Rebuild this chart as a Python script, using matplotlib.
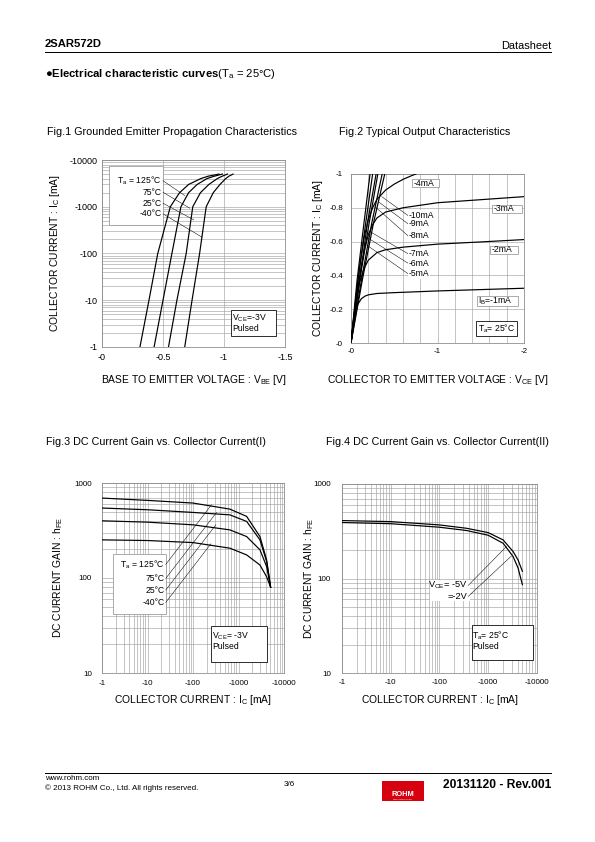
import numpy as np
import matplotlib.pyplot as plt
from matplotlib.patches import Rectangle
from matplotlib.lines import Line2D
from matplotlib.ticker import LogLocator, NullFormatter, FixedLocator

plt.rcParams['font.family'] = ['Liberation Sans', 'DejaVu Sans']
plt.rcParams['mathtext.fontset'] = 'custom'
plt.rcParams['mathtext.rm'] = 'Liberation Sans'
plt.rcParams['mathtext.it'] = 'Liberation Sans:italic'
plt.rcParams['mathtext.bf'] = 'Liberation Sans:bold'

W, H = 595, 842

# all values are magnitudes (PNP part, axes are labelled negative)
# Fig.1 grounded emitter propagation
ic_f1 = [1, 10, 100, 1000, 2000, 3000, 4000, 4500, 5000]
vbe_125 = [0.311, 0.385, 0.457, 0.560, 0.636, 0.710, 0.810, 0.870, 0.959]
vbe_75 = [0.427, 0.500, 0.573, 0.647, 0.710, 0.780, 0.860, 0.920, 0.987]
vbe_25 = [0.545, 0.614, 0.690, 0.744, 0.807, 0.876, 0.945, 0.985, 1.028]
vbe_m40 = [0.678, 0.738, 0.800, 0.854, 0.912, 0.967, 1.014, 1.040, 1.074]
temp_labels = ['T$_\\mathregular{a}$ = 125°C', '75°C', '25°C', '-40°C']
f1_lbl_ic = [3600, 2040, 1188, 705]
f1_end = [(0.678, 1740), (0.72, 930), (0.752, 525), (0.82, 223)]

# Fig.2 typical output characteristics (VCE [V], IC [A])
ib1_v = [0, 0.02, 0.05, 0.08, 0.12, 0.16, 0.2, 0.3, 0.5, 1.0, 1.5, 2.0]
ib1_i = [0, 0.09, 0.18, 0.23, 0.262, 0.277, 0.285, 0.293, 0.298, 0.308, 0.316, 0.324]
ib2_v = [0, 0.03, 0.06, 0.1, 0.15, 0.2, 0.3, 0.4, 0.6, 1.0, 1.5, 2.0]
ib2_i = [0, 0.14, 0.26, 0.36, 0.44, 0.49, 0.535, 0.552, 0.567, 0.585, 0.598, 0.612]
ib3_v = [0, 0.04, 0.08, 0.12, 0.16, 0.2, 0.25, 0.3, 0.4, 0.6, 1.0, 1.5, 2.0]
ib3_i = [0, 0.17, 0.33, 0.46, 0.56, 0.64, 0.70, 0.74, 0.775, 0.80, 0.83, 0.848, 0.866]
ib4_v = [0, 0.05, 0.1, 0.15, 0.2, 0.25, 0.3, 0.4, 0.5, 0.6, 0.7, 0.75]
ib4_i = [0, 0.24, 0.45, 0.62, 0.73, 0.80, 0.85, 0.905, 0.94, 0.968, 0.99, 1.0]
ib5_v = [0, 0.13, 0.26, 0.39]
ib6_v = [0, 0.12, 0.24, 0.36]
ib7_v = [0, 0.10, 0.21, 0.31]
ib8_v = [0, 0.10, 0.19, 0.29]
ib9_v = [0, 0.08, 0.17, 0.25]
ib10_v = [0, 0.07, 0.15, 0.22]
fan_i = [0, 0.37, 0.71, 1.0]
fan_labels = ['-10mA', '-9mA', '-8mA', '-7mA', '-6mA', '-5mA']
fan_lbl_i = [0.754, 0.705, 0.634, 0.528, 0.472, 0.41]
fan_end = [(0.355, 0.866), (0.316, 0.836), (0.277, 0.807), (0.22, 0.659), (0.20, 0.62), (0.18, 0.58)]

# Fig.3 hFE vs IC, VCE=-3V
ic_f3 = [1, 10, 100, 646, 1510, 2960, 4150, 5080]
hfe_125 = [694, 656, 615, 531, 445, 273, 155, 80]
hfe_75 = [545, 523, 490, 462, 394, 252, 149, 80]
hfe_25 = [400, 387, 363, 321, 273, 198, 132, 80]
hfe_m40 = [252, 248, 236, 206, 175, 137, 103, 80]
f3_lbl_h = [139, 99, 74.7, 55.3]
f3_end = [(255, 590), (329, 490), (318, 363), (247, 229)]

# Fig.4 hFE vs IC, Ta=25C
ic_f4 = [1, 10, 99, 359, 996, 2018, 3230, 4090, 5020]
hfe_5v = [410, 400, 369, 340, 306, 256, 193, 157, 119]
hfe_2v = [391, 380, 349, 322, 287, 236, 171, 129, 86]
f4_end = [(2360, 218), (2985, 173)]

fig = plt.figure(figsize=(W / 72, H / 72), dpi=72)

LAB = 10.3
ANN = 8.6


def fx(x):
    return x / W


def fy(y):
    return 1 - y / H


def add_ax(x0, y0, x1, y1, xpad, ypad, tick):
    ax = fig.add_axes([fx(x0), fy(y1), (x1 - x0) / W, (y1 - y0) / H])
    for s in ax.spines.values():
        s.set_color('#888888')
        s.set_linewidth(0.8)
    ax.tick_params(which='both', length=0, labelsize=tick)
    ax.tick_params(axis='x', pad=xpad)
    ax.tick_params(axis='y', pad=ypad)
    return ax


def label_axes(ax, xl, yl, xlab_y, ylab_x):
    ax.set_xlabel(xl, fontsize=LAB)
    ax.set_ylabel(yl, fontsize=LAB)
    ax.xaxis.set_label_coords(0.5, xlab_y)
    ax.yaxis.set_label_coords(ylab_x, 0.5)
    ax.xaxis.label.set_va('center')
    ax.yaxis.label.set_va('center')


def box(ax, x0, x1, y0, y1, ec):
    ax.add_patch(Rectangle((x0, y0), x1 - x0, y1 - y0, fc='white', ec=ec, lw=0.8, zorder=3))


grid_kw = dict(color='#a0a0a0', lw=0.6)
line_kw = dict(color='black', lw=1.2, zorder=4)
lead_kw = dict(color='black', lw=0.5, zorder=5)

# ---------- Fig.1 ----------
ax1 = add_ax(102, 160, 285, 347, 6, 4, 9)
ax1.set_yscale('log')
ax1.set_xlim(0, 1.5)
ax1.set_ylim(1, 10000)
ax1.xaxis.set_major_locator(FixedLocator([0, 0.5, 1, 1.5]))
ax1.set_xticklabels(['-0', '-0.5', '-1', '-1.5'])
ax1.yaxis.set_major_locator(FixedLocator([1, 10, 100, 1000, 10000]))
ax1.set_yticklabels(['-1', '-10', '-100', '-1000', '-10000'])
ax1.yaxis.set_minor_locator(LogLocator(subs=range(2, 10)))
ax1.yaxis.set_minor_formatter(NullFormatter())
ax1.grid(True, which='both', **grid_kw)
ax1.set_axisbelow(True)
for v in [vbe_125, vbe_75, vbe_25, vbe_m40]:
    ax1.plot(v, ic_f1, **line_kw)
box(ax1, 0.055, 0.504, 409, 7580, '#999999')
for lab, yl, (xe, ye) in zip(temp_labels, f1_lbl_ic, f1_end):
    ax1.text(0.49, yl, lab, fontsize=ANN, ha='right', va='center', zorder=6)
    ax1.plot([0.50, xe], [yl, ye], **lead_kw)
box(ax1, 1.055, 1.43, 1.72, 6.2, 'black')
ax1.text(1.065, 5.6, 'V$_\\mathregular{CE}$=-3V\nPulsed', fontsize=ANN, va='top', zorder=6, linespacing=1.0)
label_axes(ax1, 'BASE TO EMITTER VOLTAGE : V$_\\mathregular{BE}$ [V]',
           'COLLECTOR CURRENT : I$_\\mathregular{C}$ [mA]', -0.176, -0.257)

# ---------- Fig.2 ----------
ax2 = add_ax(351, 174, 524, 343, 5, 8, 8)
ax2.set_xlim(0, 2)
ax2.set_ylim(0, 1)
ax2.xaxis.set_major_locator(FixedLocator([0, 1, 2]))
ax2.set_xticklabels(['-0', '-1', '-2'])
ax2.xaxis.set_minor_locator(FixedLocator(np.arange(0.2, 2, 0.2)))
ax2.yaxis.set_major_locator(FixedLocator([0, 0.2, 0.4, 0.6, 0.8, 1.0]))
ax2.set_yticklabels(['-0', '-0.2', '-0.4', '-0.6', '-0.8', '-1'])
ax2.grid(True, which='both', **grid_kw)
ax2.set_axisbelow(True)
ax2.plot(ib1_v, ib1_i, **line_kw)
ax2.plot(ib2_v, ib2_i, **line_kw)
ax2.plot(ib3_v, ib3_i, **line_kw)
ax2.plot(ib4_v, ib4_i, **line_kw)
for v in [ib5_v, ib6_v, ib7_v, ib8_v, ib9_v, ib10_v]:
    ax2.plot(v, fan_i, **line_kw)
for lab, yl, (xe, ye) in zip(fan_labels, fan_lbl_i, fan_end):
    ax2.text(0.67, yl, lab, fontsize=ANN, va='center', zorder=6,
             bbox=dict(boxstyle='square,pad=0.1', fc='white', ec='none'))
    ax2.plot([0.66, xe], [yl, ye], **lead_kw)
box(ax2, 0.704, 1.012, 0.921, 0.969, '#999999')
ax2.text(0.72, 0.945, '-4mA', fontsize=ANN, va='center', zorder=6)
box(ax2, 1.627, 1.973, 0.768, 0.817, '#999999')
ax2.text(1.65, 0.793, '-3mA', fontsize=ANN, va='center', zorder=6)
box(ax2, 1.608, 1.935, 0.528, 0.575, '#999999')
ax2.text(1.63, 0.551, '-2mA', fontsize=ANN, va='center', zorder=6)
box(ax2, 1.454, 1.935, 0.22, 0.276, '#999999')
ax2.text(1.47, 0.248, 'I$_\\mathregular{B}$=-1mA', fontsize=ANN, va='center', zorder=6)
box(ax2, 1.45, 1.92, 0.04, 0.128, 'black')
ax2.text(1.47, 0.085, 'T$_\\mathregular{a}$= 25°C', fontsize=ANN, va='center', zorder=6)
label_axes(ax2, 'COLLECTOR TO EMITTER VOLTAGE : V$_\\mathregular{CE}$ [V]',
           'COLLECTOR CURRENT : I$_\\mathregular{C}$ [mA]', -0.219, -0.19)


def log_axes(ax):
    ax.set_xscale('log')
    ax.set_yscale('log')
    ax.set_xlim(1, 10000)
    ax.set_ylim(10, 1000)
    ax.xaxis.set_major_locator(FixedLocator([1, 10, 100, 1000, 10000]))
    ax.set_xticklabels(['-1', '-10', '-100', '-1000', '-10000'])
    ax.yaxis.set_major_locator(FixedLocator([10, 100, 1000]))
    ax.set_yticklabels(['10', '100', '1000'])
    for a in (ax.xaxis, ax.yaxis):
        a.set_minor_locator(LogLocator(subs=range(2, 10)))
        a.set_minor_formatter(NullFormatter())
    ax.grid(True, which='both', **grid_kw)
    ax.set_axisbelow(True)


# ---------- Fig.3 ----------
ax3 = add_ax(102, 483, 284, 673, 7, 10, 8)
log_axes(ax3)
for h in [hfe_125, hfe_75, hfe_25, hfe_m40]:
    ax3.plot(ic_f3, h, **line_kw)
box(ax3, 1.75, 26, 41.7, 178, '#999999')
for lab, yl, (xe, ye) in zip(temp_labels, f3_lbl_h, f3_end):
    ax3.text(24, yl, lab, fontsize=ANN, ha='right', va='center', zorder=6)
    ax3.plot([25.2, xe], [yl, ye], **lead_kw)
box(ax3, 247, 4300, 13, 31.1, 'black')
ax3.text(262, 28, 'V$_\\mathregular{CE}$= -3V\nPulsed', fontsize=ANN, va='top', zorder=6, linespacing=1.0)
label_axes(ax3, 'COLLECTOR CURRENT : I$_\\mathregular{C}$ [mA]',
           'DC CURRENT GAIN : h$_\\mathregular{FE}$', -0.142, -0.242)

# ---------- Fig.4 ----------
ax4 = add_ax(342, 484, 537, 673, 6, 11, 8)
log_axes(ax4)
ax4.plot(ic_f4, hfe_5v, **line_kw)
ax4.plot(ic_f4, hfe_2v, **line_kw)
ax4.add_patch(Rectangle((64, 57.2), 420 - 64, 96.8 - 57.2, fc='white', ec='none', zorder=3))
ax4.text(380, 84.4, 'V$_\\mathregular{CE}$= -5V', fontsize=9.2, ha='right', va='center', zorder=6)
ax4.text(380, 64.6, '=-2V', fontsize=9.2, ha='right', va='center', zorder=6)
ax4.plot([388, f4_end[0][0]], [84.4, f4_end[0][1]], **lead_kw)
ax4.plot([388, f4_end[1][0]], [64.6, f4_end[1][1]], **lead_kw)
box(ax4, 455, 8280, 13.8, 32.4, 'black')
ax4.text(475, 29, 'T$_\\mathregular{a}$= 25°C\nPulsed', fontsize=ANN, va='top', zorder=6, linespacing=1.0)
label_axes(ax4, 'COLLECTOR CURRENT : I$_\\mathregular{C}$ [mA]',
           'DC CURRENT GAIN : h$_\\mathregular{FE}$', -0.143, -0.169)

# ---------- titles, header, footer ----------
TT = 10.8
fig.text(fx(172), fy(132), 'Fig.1 Grounded Emitter Propagation Characteristics', fontsize=TT, ha='center', va='center')
fig.text(fx(425), fy(132), 'Fig.2 Typical Output Characteristics', fontsize=TT, ha='center', va='center')
fig.text(fx(46), fy(442), 'Fig.3 DC Current Gain vs. Collector Current(I)', fontsize=TT, va='center')
fig.text(fx(326), fy(442), 'Fig.4 DC Current Gain vs. Collector Current(II)', fontsize=TT, va='center')

fig.text(fx(45), fy(44), '2SAR572D', fontsize=11.3, fontweight='bold', va='center')
fig.text(fx(551), fy(46), 'Datasheet', fontsize=11, ha='right', va='center')
fig.add_artist(Line2D([fx(45), fx(551)], [fy(52), fy(52)], color='black', lw=1))
fig.text(fx(45), fy(74), '●' + r'$\mathbf{Electrical\ characteristic\ curves}$' + '(T$_\\mathregular{a}$ = 25°C)',
         fontsize=11.3, va='center')

fig.add_artist(Line2D([fx(45), fx(551)], [fy(773), fy(773)], color='black', lw=1))
fig.text(fx(45), fy(778), 'www.rohm.com', fontsize=8, va='center')
fig.text(fx(45), fy(788), '© 2013 ROHM Co., Ltd. All rights reserved.', fontsize=8, va='center')
fig.text(fx(284), fy(784), '3/6', fontsize=8, va='center')
fig.add_artist(Rectangle((fx(382), fy(801)), 42 / W, 20 / H, transform=fig.transFigure, fc='#d7000f', ec='none'))
fig.text(fx(403), fy(794), 'ROHM', fontsize=7.5, fontweight='bold', color='white', ha='center', va='center')
fig.text(fx(403), fy(799), 'SEMICONDUCTOR', fontsize=2.2, color='white', ha='center', va='center')
fig.text(fx(551), fy(785), '20131120 - Rev.001', fontsize=12, fontweight='bold', ha='right', va='center')

fig.savefig('out.png', dpi=72)
